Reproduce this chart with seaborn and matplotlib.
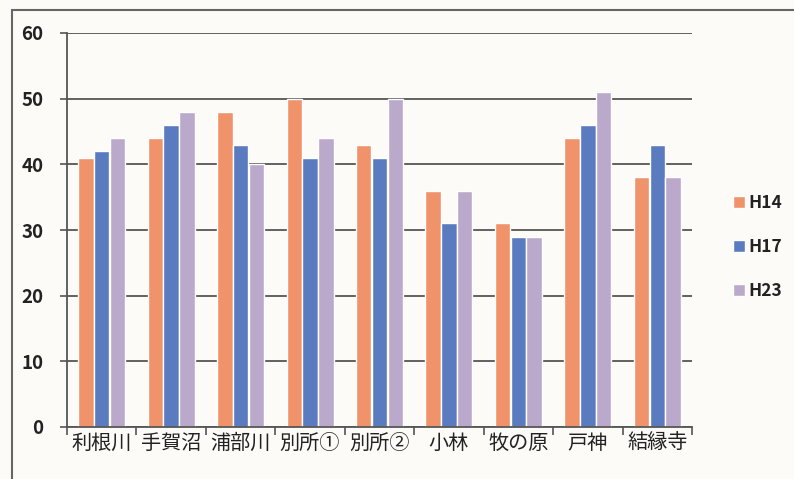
import matplotlib
matplotlib.use("Agg")
import matplotlib.pyplot as plt
from matplotlib.patches import Rectangle
import seaborn as sns
import pandas as pd

sites = ["利根川", "手賀沼", "浦部川", "別所①", "別所②", "小林", "牧の原", "戸神", "結縁寺"]
years = ["H14", "H17", "H23"]
h14 = [41, 44, 48, 50, 43, 36, 31, 44, 38]
h17 = [42, 46, 43, 41, 41, 31, 29, 46, 43]
h23 = [44, 48, 40, 44, 50, 36, 29, 51, 38]
yticks = [0, 10, 20, 30, 40, 50, 60]

colors = ["#F0936A", "#5A7BC0", "#BBA9CB"]

df = pd.DataFrame({
    "site": sites * 3,
    "year": [y for y in years for _ in sites],
    "value": h14 + h17 + h23,
})

sns.set_theme(style="white")
plt.rcParams["font.family"] = ["Noto Sans CJK JP", "DejaVu Sans"]

bg = "#FDFBF8"
fig = plt.figure(figsize=(7.94, 4.79), dpi=100, facecolor=bg)
ax = fig.add_axes([67 / 794, 1 - 427 / 479, (692 - 67) / 794, (427 - 33) / 479])
ax.set_facecolor(bg)

sns.barplot(data=df, x="site", y="value", hue="year", palette=colors,
            width=0.68, gap=0.02, ax=ax, legend=True, saturation=1)

ax.set_ylim(0, 60)
ax.set_yticks(yticks)
ax.set_xlim(-0.5, len(sites) - 0.5)
ax.yaxis.grid(True, color="#555555", linewidth=1.3)
ax.set_axisbelow(True)
ax.set_xlabel("")
ax.set_ylabel("")

for s in ["top", "right"]:
    ax.spines[s].set_visible(False)
for s in ["left", "bottom"]:
    ax.spines[s].set_color("#555555")
    ax.spines[s].set_linewidth(1.3)

ax.tick_params(axis="y", which="major", length=5, width=1.2, color="#555555",
               labelsize=13.5, pad=12, left=True)
for lbl in ax.get_yticklabels():
    lbl.set_fontweight("bold")
    lbl.set_color("#222222")

# category boundary ticks on the x axis
ax.set_xticks(range(len(sites)))
ax.set_xticklabels(sites, fontsize=14.5, color="#222222")
ax.tick_params(axis="x", which="major", length=0, pad=4)
ax.set_xticks([i + 0.5 for i in range(-1, len(sites))], minor=True)
ax.tick_params(axis="x", which="minor", length=6, width=1.2, color="#555555", bottom=True)

handles, labels = ax.get_legend_handles_labels()
leg = ax.legend(handles, labels, loc="center left", bbox_to_anchor=(717 / 794, 1 - 247 / 479),
                bbox_transform=fig.transFigure, frameon=False, fontsize=12.5,
                handlelength=0.7, handleheight=0.7, handletextpad=0.2, labelspacing=1.5)
for t in leg.get_texts():
    t.set_fontweight("bold")
    t.set_color("#222222")

# chart area border
fig.patches.append(Rectangle((12 / 794, -0.05), 1.1, 1 - 10 / 479 + 0.05,
                             transform=fig.transFigure, fill=False,
                             edgecolor="#666666", linewidth=1.5))

fig.savefig("out.png", dpi=100, facecolor=bg)
